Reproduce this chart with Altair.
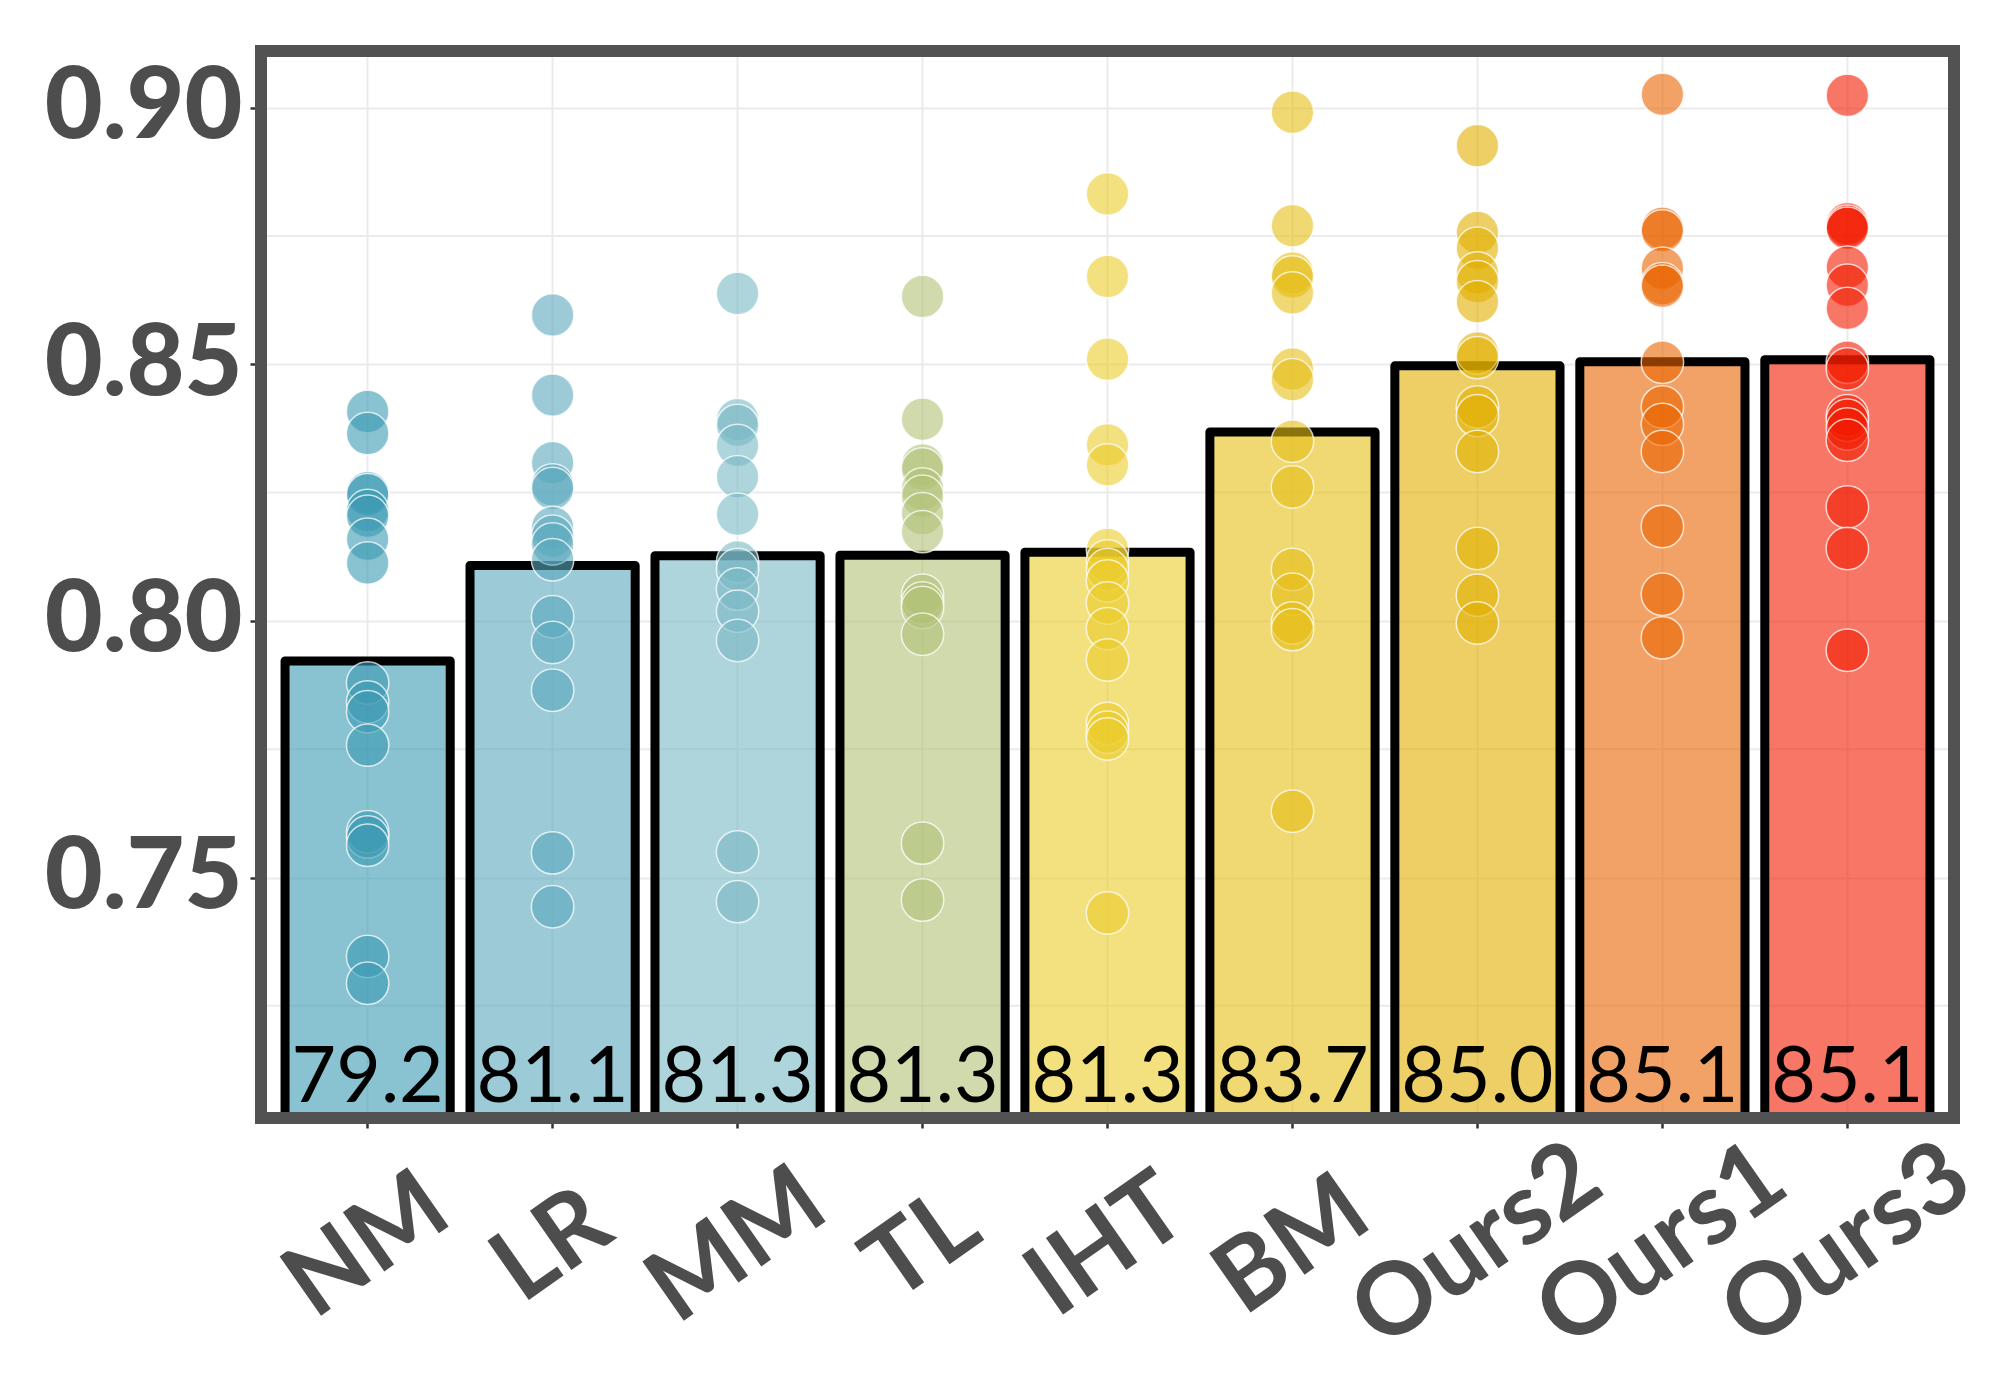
import altair as alt
import pandas as pd

# ---- data ----
methods = ["NM", "LR", "MM", "TL", "IHT", "BM", "Ours2", "Ours1", "Ours3"]
bar_means = [0.7922, 0.8108, 0.8127, 0.8128, 0.8134, 0.8368, 0.8497, 0.8505, 0.8509]
bar_labels = [79.2, 81.1, 81.3, 81.3, 81.3, 83.7, 85.0, 85.1, 85.1]
colors = ["#3B9AB2", "#5AA8BC", "#78B7C5", "#B1C177", "#EBCC2A",
          "#E6BE15", "#E1AF00", "#EA6400", "#F21A00"]

pts_NM = [0.8408, 0.8365, 0.8250, 0.8246, 0.8215, 0.8204, 0.8159, 0.8113, 0.7879,
          0.7842, 0.7823, 0.7758, 0.7589, 0.7579, 0.7563, 0.7346, 0.7294]
pts_LR = [0.8596, 0.8440, 0.8308, 0.8265, 0.8258, 0.8182, 0.8165, 0.8150, 0.8119,
          0.8008, 0.7958, 0.7865, 0.7548, 0.7443]
pts_MM = [0.8638, 0.8392, 0.8381, 0.8342, 0.8281, 0.8208, 0.8115, 0.8100, 0.8062,
          0.8019, 0.7962, 0.7550, 0.7453]
pts_TL = [0.8632, 0.8393, 0.8304, 0.8296, 0.8257, 0.8243, 0.8209, 0.8174, 0.8050,
          0.8035, 0.8026, 0.7974, 0.7567, 0.7456]
pts_IHT = [0.8832, 0.8671, 0.8510, 0.8343, 0.8304, 0.8139, 0.8117, 0.8100, 0.8078,
           0.8035, 0.7985, 0.7924, 0.7800, 0.7783, 0.7770, 0.7431]
pts_BM = [0.8991, 0.8770, 0.8678, 0.8670, 0.8639, 0.8491, 0.8470, 0.8350, 0.8261,
          0.8100, 0.8052, 0.7996, 0.7983, 0.7629]
pts_Ours2 = [0.8926, 0.8757, 0.8726, 0.8678, 0.8661, 0.8622, 0.8522, 0.8513, 0.8417,
             0.8400, 0.8330, 0.8141, 0.8050, 0.7996]
pts_Ours1 = [0.9026, 0.8765, 0.8760, 0.8687, 0.8657, 0.8652, 0.8504, 0.8417, 0.8383,
             0.8330, 0.8184, 0.8052, 0.7967]
pts_Ours3 = [0.9024, 0.8774, 0.8769, 0.8765, 0.8689, 0.8654, 0.8609, 0.8504, 0.8491,
             0.8400, 0.8391, 0.8374, 0.8352, 0.8222, 0.8141, 0.7943]

major_ticks = [0.75, 0.80, 0.85, 0.90]
minor_grid = [0.725, 0.775, 0.825, 0.875]
y_domain = [0.70314, 0.91105]
bar_base = 0.70

# ---- tables ----
bars_df = pd.DataFrame({"method": methods, "value": bar_means, "label": bar_labels})
all_pts = [pts_NM, pts_LR, pts_MM, pts_TL, pts_IHT, pts_BM, pts_Ours2, pts_Ours1, pts_Ours3]
rows = []
for m, vals in zip(methods, all_pts):
    for v in vals:
        rows.append({"method": m, "value": v})
pts_df = pd.DataFrame(rows)
minor_df = pd.DataFrame({"g": minor_grid})

W, H = 1693, 1067
GRAY = "#4D4D4D"
GRID = "#EBEBEB"

xscale = alt.Scale(domain=methods, paddingInner=0.107, paddingOuter=0.13)
yscale = alt.Scale(domain=y_domain, zero=False, nice=False)
cscale = alt.Scale(domain=methods, range=colors)

x_enc = alt.X("method:N", scale=xscale, sort=methods, title=None,
              axis=alt.Axis(labelAngle=325, labelAlign="center", labelBaseline="middle",
                            labelPadding=118, tickSize=10, tickWidth=2.5, tickColor="#333333",
                            labelFont="Lato", labelFontWeight="bold", labelFontSize=100,
                            labelColor=GRAY, labelLimit=1000, domain=False, grid=True,
                            gridColor=GRID, gridWidth=2))

minor = alt.Chart(minor_df).mark_rule(color=GRID, strokeWidth=2).encode(
    y=alt.Y("g:Q", scale=yscale)
)

bars = alt.Chart(bars_df).mark_bar(
    fillOpacity=0.6, stroke="black", strokeWidth=9, strokeJoin="round", clip=True
).encode(
    x=x_enc,
    y=alt.Y("value:Q", scale=yscale, title=None,
            axis=alt.Axis(values=major_ticks, format=".2f", labelFont="Lato",
                          labelFontWeight=900, labelFontSize=100, labelColor=GRAY,
                          labelLimit=1000, tickSize=11, tickWidth=2.5, tickColor="#333333",
                          labelPadding=8, domain=False, grid=True, gridColor=GRID,
                          gridWidth=2)),
    y2=alt.datum(bar_base),
    color=alt.Color("method:N", scale=cscale, legend=None),
)

points = alt.Chart(pts_df).mark_circle(
    size=1800, fillOpacity=0.6, stroke="white", strokeWidth=1.5, strokeOpacity=0.75
).encode(
    x=alt.X("method:N", scale=xscale, sort=methods),
    y=alt.Y("value:Q", scale=yscale),
    color=alt.Color("method:N", scale=cscale, legend=None),
)

labels = alt.Chart(bars_df).mark_text(
    font="Lato", fontSize=77, baseline="alphabetic", align="center", color="black"
).encode(
    x=alt.X("method:N", scale=xscale, sort=methods),
    y=alt.value(H - 16),
    text=alt.Text("label:Q", format=".1f"),
)

frame = alt.Chart(pd.DataFrame({"f": [0]})).mark_rect(
    fillOpacity=0, stroke="#525252", strokeWidth=12
).encode(
    x=alt.value(0), x2=alt.value(W), y=alt.value(0), y2=alt.value(H)
)

chart = alt.layer(minor, bars, points, labels, frame).properties(
    width=W, height=H,
    autosize=alt.AutoSizeParams(type="none"),
    padding={"left": 253, "top": 43, "right": 38, "bottom": 274},
).configure_view(strokeWidth=0)

chart.save("out.html", embed_options={"renderer": "svg", "actions": False})
